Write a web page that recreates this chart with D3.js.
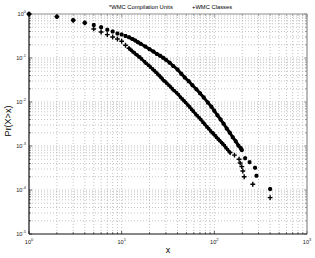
<!DOCTYPE html>
<html>
<head>
<meta charset="utf-8">
<script src="https://cdn.jsdelivr.net/npm/d3@7"></script>
<style>
  body { margin: 0; background: #fff; }
  svg { display: block; font-family: "Liberation Sans", Arial, sans-serif; }
</style>
</head>
<body>
<svg id="chart"></svg>
<script>
// Data (complementary CDFs, log-log)
const xUnits = [1, 2, 3, 4, 5, 6, 7, 8, 9, 10, 11, 12, 13, 14, 15, 16, 18, 20, 22, 24, 26, 28, 30, 33, 36, 40, 44, 48, 53, 58, 64, 70, 77, 85, 93, 100, 108, 117, 126, 136, 147, 158, 170, 182, 193, 198, 215, 240, 275, 285, 400];
const pUnits = [1, 0.87, 0.72, 0.63, 0.56, 0.50, 0.44, 0.40, 0.36, 0.34, 0.316, 0.295, 0.272, 0.251, 0.229, 0.211, 0.182, 0.158, 0.140, 0.124, 0.112, 0.101, 0.091, 0.078, 0.066, 0.055, 0.044, 0.036, 0.0295, 0.024, 0.0195, 0.0158, 0.0126, 0.0098, 0.0078, 0.0063, 0.0050, 0.0040, 0.0032, 0.0025, 0.0020, 0.00158, 0.00129, 0.00102, 0.00089, 0.00081, 0.00053, 0.00043, 0.00032, 0.00021, 0.000105];

const xClasses = [1, 2, 3, 4, 5, 6, 7, 8, 9, 10, 11, 12, 13, 14, 15, 16, 18, 20, 22, 24, 26, 28, 30, 33, 36, 40, 44, 48, 53, 58, 64, 70, 77, 85, 93, 100, 108, 117, 126, 136, 148, 165, 185, 190, 198, 203, 210, 260, 400];
const pClasses = [1, 0.87, 0.72, 0.63, 0.457, 0.39, 0.34, 0.30, 0.27, 0.24, 0.195, 0.166, 0.143, 0.126, 0.112, 0.100, 0.079, 0.065, 0.054, 0.045, 0.038, 0.032, 0.028, 0.023, 0.019, 0.0155, 0.0123, 0.0102, 0.0081, 0.0065, 0.0051, 0.0042, 0.0033, 0.0026, 0.0021, 0.0018, 0.0015, 0.00126, 0.00107, 0.00087, 0.00071, 0.00062, 0.00050, 0.00041, 0.00034, 0.00027, 0.00020, 0.000135, 0.000067];

// dense stretch where the markers run together into a band
const bandUnits = [12, 198];
const bandClasses = [12, 148];

const xTicks = [1, 10, 100, 1000];
const xExp = ["0", "1", "2", "3"];
const yTicks = [1e-5, 1e-4, 1e-3, 1e-2, 1e-1, 1];
const yExp = ["-5", "-4", "-3", "-2", "-1", "0"];

const legendNames = ["*WMC Compilation Units", "+WMC Classes"];

// Set dimensions and margins
const margin = { top: 14, right: 8, bottom: 24, left: 29 };
const width = 315 - margin.left - margin.right;
const height = 258 - margin.top - margin.bottom;

const svg = d3.select("#chart")
    .attr("width", width + margin.left + margin.right)
    .attr("height", height + margin.top + margin.bottom);

const g = svg.append("g")
    .attr("transform", `translate(${margin.left},${margin.top})`);

const x = d3.scaleLog().domain([1, 1000]).range([0, width]);
const y = d3.scaleLog().domain([1e-5, 1]).range([height, 0]);

// minor positions: 1..9 times each decade
const xGrid = d3.range(0, 3).flatMap(d => d3.range(1, 10).map(k => k * Math.pow(10, d))).concat([1000]);
const yGrid = d3.range(-5, 0).flatMap(d => d3.range(1, 10).map(k => k * Math.pow(10, d))).concat([1]);
const isMajor = v => Math.abs(Math.log10(v) - Math.round(Math.log10(v))) < 1e-9;

// Grid
g.append("g").selectAll("line")
    .data(xGrid.slice(1, -1))
  .enter().append("line")
    .attr("x1", d => x(d)).attr("x2", d => x(d))
    .attr("y1", 0).attr("y2", height)
    .attr("stroke", "#b4b4b4")
    .attr("stroke-width", 0.8)
    .attr("stroke-dasharray", "1,2");

g.append("g").selectAll("line")
    .data(yGrid.slice(1, -1))
  .enter().append("line")
    .attr("y1", d => y(d)).attr("y2", d => y(d))
    .attr("x1", 0).attr("x2", width)
    .attr("stroke", "#b4b4b4")
    .attr("stroke-width", 0.8)
    .attr("stroke-dasharray", "1,2");

// Inward ticks on all four sides
const ticks = g.append("g").attr("stroke", "#333").attr("stroke-width", 0.8);
xGrid.forEach(v => {
    const L = isMajor(v) ? 3 : 1.8;
    ticks.append("line").attr("x1", x(v)).attr("x2", x(v)).attr("y1", height).attr("y2", height - L);
    ticks.append("line").attr("x1", x(v)).attr("x2", x(v)).attr("y1", 0).attr("y2", L).attr("stroke", "#888");
});
yGrid.forEach(v => {
    const L = isMajor(v) ? 3 : 1.8;
    ticks.append("line").attr("y1", y(v)).attr("y2", y(v)).attr("x1", 0).attr("x2", L);
    ticks.append("line").attr("y1", y(v)).attr("y2", y(v)).attr("x1", width).attr("x2", width - L).attr("stroke", "#888");
});

// Box: black left/bottom, grey top/right
g.append("line").attr("x1", 0).attr("x2", width).attr("y1", 0).attr("y2", 0).attr("stroke", "#8c8c8c").attr("stroke-width", 1.2);
g.append("line").attr("x1", width).attr("x2", width).attr("y1", 0).attr("y2", height).attr("stroke", "#8c8c8c").attr("stroke-width", 1.2);
g.append("line").attr("x1", 0).attr("x2", width).attr("y1", height).attr("y2", height).attr("stroke", "#111").attr("stroke-width", 1.2);
g.append("line").attr("x1", 0).attr("x2", 0).attr("y1", 0).attr("y2", height).attr("stroke", "#111").attr("stroke-width", 1.2);

// Tick labels with superscript exponents
const xLab = g.append("g").selectAll("text")
    .data(xTicks)
  .enter().append("text")
    .attr("x", d => x(d))
    .attr("y", height + 10)
    .attr("text-anchor", "middle")
    .attr("font-size", 5.6)
    .attr("fill", "#222");
xLab.append("tspan").text("10");
xLab.append("tspan").attr("dy", -2.6).attr("font-size", 4).text((d, i) => xExp[i]);

const yLab = g.append("g").selectAll("text")
    .data(yTicks)
  .enter().append("text")
    .attr("x", -3)
    .attr("y", d => y(d) + 2)
    .attr("text-anchor", "end")
    .attr("font-size", 5.6)
    .attr("fill", "#222");
yLab.append("tspan").text("10");
yLab.append("tspan").attr("dy", -2.6).attr("font-size", 4).text((d, i) => yExp[i]);

// Axis titles
svg.append("text")
    .attr("x", margin.left + width / 2)
    .attr("y", 253)
    .attr("text-anchor", "middle")
    .attr("font-size", 9)
    .text("x");

svg.append("text")
    .attr("transform", "rotate(-90)")
    .attr("x", -121)
    .attr("y", 11)
    .attr("text-anchor", "middle")
    .attr("font-size", 9)
    .text("Pr(X>x)");

// Legend
svg.append("text")
    .attr("x", 109).attr("y", 9)
    .attr("font-size", 5.8)
    .text(legendNames[0]);
svg.append("text")
    .attr("x", 192).attr("y", 9)
    .attr("font-size", 5.8)
    .text(legendNames[1]);

// Series
const unitPts = xUnits.map((v, i) => [v, pUnits[i]]);
const classPts = xClasses.map((v, i) => [v, pClasses[i]]);

const line = d3.line().x(d => x(d[0])).y(d => y(d[1]));

g.append("path")
    .datum(unitPts.filter(d => d[0] >= bandUnits[0] && d[0] <= bandUnits[1]))
    .attr("d", line)
    .attr("fill", "none").attr("stroke", "#000")
    .attr("stroke-width", 3).attr("stroke-linejoin", "round").attr("stroke-linecap", "round");

g.append("path")
    .datum(classPts.filter(d => d[0] >= bandClasses[0] && d[0] <= bandClasses[1]))
    .attr("d", line)
    .attr("fill", "none").attr("stroke", "#000")
    .attr("stroke-width", 3).attr("stroke-linejoin", "round").attr("stroke-linecap", "round");

const star = "M-2,0H2M0,-2V2M-1.5,-1.5L1.5,1.5M-1.5,1.5L1.5,-1.5";
const plus = "M-2.4,0H2.4M0,-2.4V2.4";

g.append("g").selectAll("path")
    .data(unitPts)
  .enter().append("path")
    .attr("transform", d => `translate(${x(d[0])},${y(d[1])})`)
    .attr("d", star)
    .attr("stroke", "#000").attr("stroke-width", 1.4);

g.append("g").selectAll("path")
    .data(classPts)
  .enter().append("path")
    .attr("transform", d => `translate(${x(d[0])},${y(d[1])})`)
    .attr("d", plus)
    .attr("stroke", "#000").attr("stroke-width", 1.4);
</script>
</body>
</html>
